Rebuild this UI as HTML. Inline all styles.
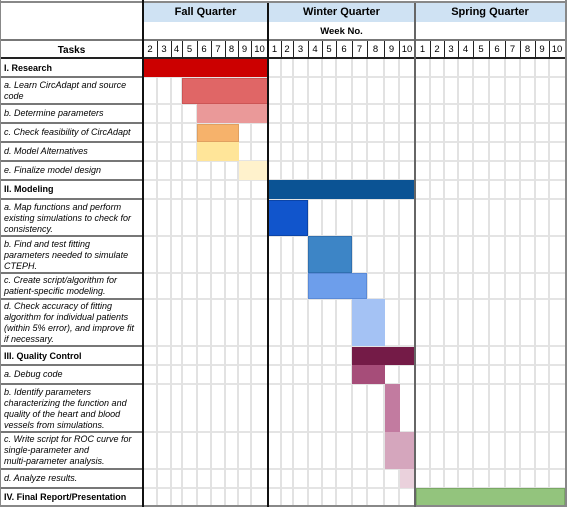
<!DOCTYPE html>
<html><head><meta charset="utf-8"><style>
body{margin:0;width:567px;height:507px;background:#fff;position:relative;overflow:hidden;font-family:"Liberation Sans",sans-serif;font-size:9px;color:#000}
div{position:absolute;box-sizing:border-box}
.t{left:4px;width:140px;font-style:italic;line-height:11px;font-size:9px;white-space:nowrap}
.b{font-weight:bold;font-style:normal}
.q{top:3px;height:19px;background:#cfe2f3;font-weight:bold;font-size:11px;text-align:center;line-height:19px}
</style></head><body>
<div class="q" style="left:143px;width:125px">Fall Quarter</div>
<div class="q" style="left:268px;width:147px">Winter Quarter</div>
<div class="q" style="left:415px;width:150px">Spring Quarter</div>
<div style="left:268px;width:147px;top:26px;font-weight:bold;text-align:center;font-size:9.5px">Week No.</div>
<div style="left:0;width:143px;top:45px;font-weight:bold;text-align:center;font-size:10px">Tasks</div>

<div style="left:143px;width:125px;top:59px;height:18px;background:#cc0000"></div>
<div style="left:182px;width:86px;top:78px;height:26px;background:#e06666;border:1px solid #c55"></div>
<div style="left:197px;width:71px;top:104px;height:19px;background:#ea9999"></div>
<div style="left:197px;width:42px;top:124px;height:18px;background:#f6b26b;border:1px solid #e0a060"></div>
<div style="left:197px;width:42px;top:142px;height:19px;background:#ffe599"></div>
<div style="left:239px;width:28px;top:161px;height:19px;background:#fff2cc"></div>
<div style="left:268px;width:147px;top:180px;height:19px;background:#0b5394"></div>
<div style="left:268px;width:40px;top:200px;height:36px;background:#1155cc;border:1px solid #0b44a8"></div>
<div style="left:308px;width:44px;top:236px;height:37px;background:#3d85c6;border:1px solid #3070b0"></div>
<div style="left:308px;width:59px;top:273px;height:26px;background:#6d9eeb;border:1px solid #5a8ad8"></div>
<div style="left:352px;width:33px;top:299px;height:47px;background:#a4c2f4"></div>
<div style="left:352px;width:63px;top:347px;height:18px;background:#741b47"></div>
<div style="left:352px;width:33px;top:365px;height:19px;background:#a64d79"></div>
<div style="left:385px;width:15px;top:384px;height:48px;background:#c27ba0"></div>
<div style="left:385px;width:30px;top:432px;height:37px;background:#d5a6bd"></div>
<div style="left:400px;width:15px;top:469px;height:19px;background:#ead1dc"></div>
<div style="left:416px;width:149px;top:488px;height:19px;background:#93c47d;border:1px solid #7aa865"></div>

<div class="t b" style="top:63px">I. Research</div>
<div class="t" style="top:80px">a. Learn CircAdapt and source<br>code</div>
<div class="t" style="top:108px">b. Determine parameters</div>
<div class="t" style="top:127px">c. Check feasibility of CircAdapt</div>
<div class="t" style="top:146px">d. Model Alternatives</div>
<div class="t" style="top:165px">e. Finalize model design</div>
<div class="t b" style="top:184px">II. Modeling</div>
<div class="t" style="top:202px">a. Map functions and perform<br>existing simulations to check for<br>consistency.</div>
<div class="t" style="top:239px">b. Find and test fitting<br>parameters needed to simulate<br>CTEPH.</div>
<div class="t" style="top:275px">c. Create script/algorithm for<br>patient-specific modeling.</div>
<div class="t" style="top:301px">d. Check accuracy of fitting<br>algorithm for individual patients<br>(within 5% error), and improve fit<br>if necessary.</div>
<div class="t b" style="top:351px">III. Quality Control</div>
<div class="t" style="top:369px">a. Debug code</div>
<div class="t" style="top:387px">b. Identify parameters<br>characterizing the function and<br>quality of the heart and blood<br>vessels from simulations.</div>
<div class="t" style="top:434px">c. Write script for ROC curve for<br>single-parameter and<br>multi-parameter analysis.</div>
<div class="t" style="top:473px">d. Analyze results.</div>
<div class="t b" style="top:492px">IV. Final Report/Presentation</div>

<script>
(function(){
var g=document.body;
function under(s){var e=document.createElement('div');e.setAttribute('style',s);g.insertBefore(e,g.firstChild);return e;}
function over(s){var e=document.createElement('div');e.setAttribute('style',s);g.appendChild(e);return e;}
var cols=[143,157,171,182,197,211,225,238,251,268,281,293,308,322,336,352,367,384,399,415,430,444,458,473,489,505,520,535,549,565];
var labs=['2','3','4','5','6','7','8','9','10','1','2','3','4','5','6','7','8','9','10','1','2','3','4','5','6','7','8','9','10'];
var rows=[59,77,104,123,142,161,180,199,236,273,299,346,365,384,432,469,488];
for(var i=1;i<cols.length-1;i++){under('left:'+(cols[i]-1)+'px;top:58px;width:2px;height:449px;background:#e2e2e2');}
for(var j=1;j<rows.length;j++){under('left:143px;top:'+(rows[j]-1)+'px;width:422px;height:2px;background:#e4e4e4');
 over('left:0;top:'+(rows[j]-1)+'px;width:143px;height:2px;background:#777');}
for(var i=0;i<labs.length;i++){var e=over('left:'+cols[i]+'px;width:'+(cols[i+1]-cols[i])+'px;top:44px;text-align:center;font-size:9.5px');e.textContent=labs[i];
 if(i>0)over('left:'+cols[i]+'px;top:40px;width:1px;height:18px;background:#222');}
over('left:0;top:39px;width:565px;height:2px;background:#777');
over('left:0;top:57px;width:565px;height:2px;background:#222');
over('left:0;top:1px;width:566px;height:2px;background:#888');
over('left:0;top:0;width:1px;height:507px;background:#888');
over('left:565px;top:0;width:2px;height:507px;background:#888');
over('left:0;top:505px;width:567px;height:2px;background:#888');
over('left:142px;top:0;width:2px;height:507px;background:#111');
over('left:267px;top:3px;width:2px;height:504px;background:#111');
over('left:414px;top:3px;width:2px;height:504px;background:#666');
})();
</script>
</body></html>
